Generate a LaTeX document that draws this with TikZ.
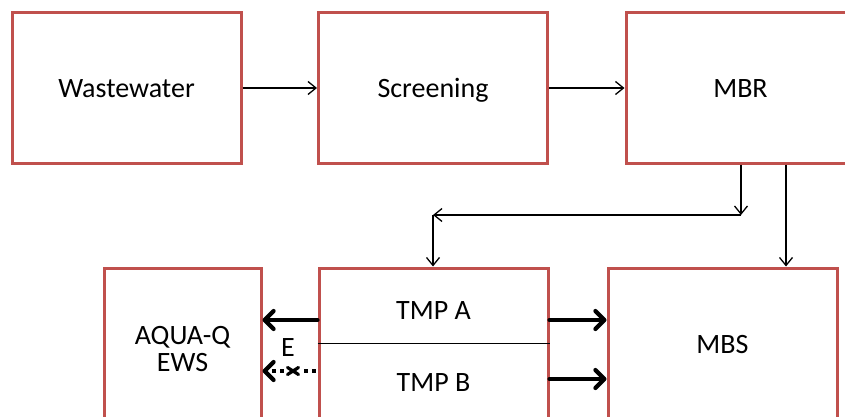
\documentclass[tikz,border=0pt]{standalone}
\usepackage{fontspec}
\setmainfont{Carlito}
\usetikzlibrary{arrows.meta,calc}
\definecolor{boxred}{RGB}{192,80,77}
\tikzset{
  blkbase/.style={draw=boxred, line width=3pt, fill=white, rectangle, minimum width=229pt, minimum height=150pt, inner sep=0pt, align=center, font=\fontsize{28}{32}\selectfont},
  blk/.style={blkbase, text height=21pt, text depth=1pt},
  lbl/.style={inner sep=0pt, text height=21pt, text depth=1pt, font=\fontsize{28}{32}\selectfont},
  mlbl/.style={inner sep=0pt, align=center, font=\fontsize{28}{27}\selectfont},
  thinarrow/.style={draw=black, line width=1.3pt, -{Straight Barb[length=8pt,width=13pt]}},
  thickarrow/.style={draw=black, line width=4.2pt, line cap=round, -{Straight Barb[length=9pt,width=18pt,round]}},
  dotarrow/.style={draw=black, line width=4.2pt, dash pattern=on 3.5pt off 4.5pt, -{Straight Barb[length=9pt,width=18pt,round,line cap=round]}},
  divider/.style={draw=black, line width=1pt},
  xline/.style={draw=black, line width=3.2pt, line cap=round}
}
\begin{document}
\begin{tikzpicture}[x=1pt,y=-1pt]
\useasboundingbox (0,0) rectangle (845,417);
\clip (0,0) rectangle (845,417);
% top row
\node[blk] (WW) at (126.5,88) {Wastewater};
\node[blk] (SC) at (433,88) {Screening};
\node[blk] (MBR) at (740.5,88) {MBR};
% bottom row
\node[blkbase, minimum width=157pt] (AQ) at (182.5,343) {};
\node[mlbl] (AQT) at (182.5,349) {AQUA-Q\\EWS};
\node[blk] (TMP) at (433.5,343) {};
\node[blk] (MBS) at (722.5,343) {MBS};
\draw[divider] (TMP.west) -- (TMP.east);
\node[lbl] (TA) at (433.5,309) {TMP A};
\node[lbl] (TB) at (433.5,381) {TMP B};
\node[lbl] (E) at (288,346) {E};
% coordinates
\coordinate (c1) at (741,215);
\coordinate (c2) at (433,215);
\coordinate (c3) at (786,215);
\coordinate (ya) at (0,320);
\coordinate (yb) at (0,379);
\coordinate (yc) at (0,371);
\coordinate (X) at (293,371);
% thin connectors
\draw[thinarrow] (WW.east) -- (SC.west);
\draw[thinarrow] (SC.east) -- (MBR.west);
\draw[thinarrow] (MBR.south -| c1) -- (c1);
\draw[thinarrow] (c1) -- (c2);
\draw[thinarrow] (c2) -- (TMP.north -| c2);
\draw[thinarrow] (MBR.south -| c3) -- (MBS.north -| c3);
% thick connectors
\draw[thickarrow] (TMP.west |- ya) -- (AQ.east |- ya);
\draw[thickarrow] (TMP.east |- ya) -- (MBS.west |- ya);
\draw[thickarrow] (TMP.east |- yb) -- (MBS.west |- yb);
\draw[dotarrow] ($(TMP.west |- yc)+(-2,0)$) -- (AQ.east |- yc);
\fill[white] ($(X)+(-7,-5)$) rectangle ($(X)+(7,5)$);
\draw[xline] ($(X)+(-5.5,-3.5)$) -- ($(X)+(5.5,3.5)$);
\draw[xline] ($(X)+(-5.5,3.5)$) -- ($(X)+(5.5,-3.5)$);
\end{tikzpicture}
\end{document}
